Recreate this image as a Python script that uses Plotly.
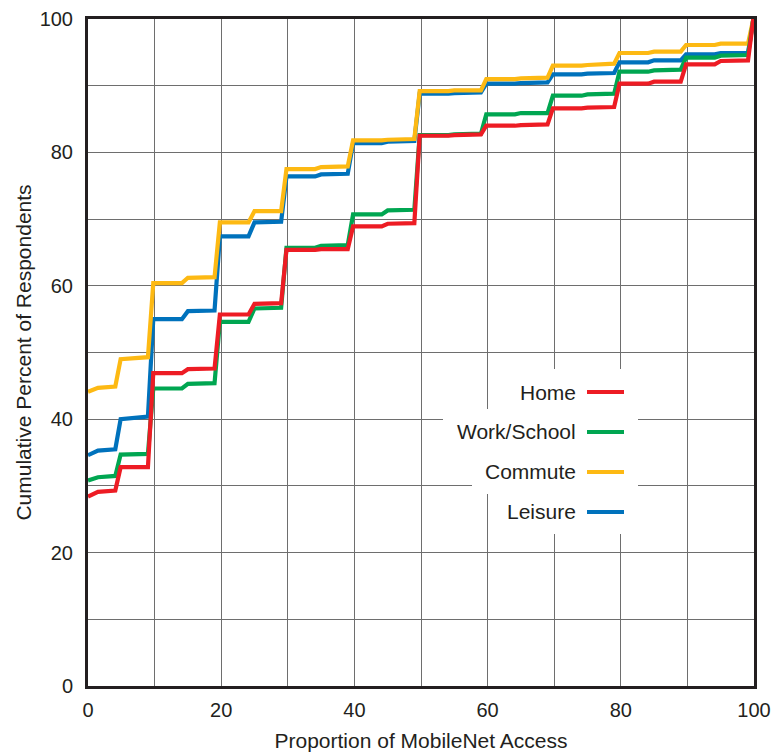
import plotly.graph_objects as go

# ---- data ----
proportion = [0, 1.5, 4.1, 4.9, 9.0, 9.8, 14.1, 15.0, 19.0, 19.8, 24.1, 25.0, 29.0, 29.8,
              34.1, 35.0, 39.0, 39.8, 44.1, 45.0, 49.0, 49.8, 54.1, 55.0, 59.0, 59.8,
              64.1, 65.0, 69.0, 69.8, 74.1, 75.0, 79.0, 79.8, 84.1, 85.0, 89.0, 89.8,
              94.1, 95.0, 99.1, 99.9]

commute = [44.1, 44.7, 44.9, 49.0, 49.3, 60.4, 60.4, 61.2, 61.3, 69.5, 69.5, 71.2, 71.2, 77.5,
           77.5, 77.8, 77.9, 81.8, 81.8, 81.9, 82.0, 89.2, 89.2, 89.3, 89.3, 91.0,
           91.0, 91.1, 91.2, 93.0, 93.0, 93.1, 93.3, 94.9, 94.9, 95.1, 95.1, 96.1,
           96.1, 96.3, 96.3, 100]

leisure = [34.6, 35.3, 35.5, 40.0, 40.4, 55.0, 55.0, 56.2, 56.3, 67.4, 67.4, 69.5, 69.6, 76.4,
           76.4, 76.7, 76.8, 81.4, 81.4, 81.6, 81.7, 88.8, 88.8, 88.9, 89.0, 90.3,
           90.3, 90.4, 90.5, 91.7, 91.7, 91.8, 91.9, 93.5, 93.5, 93.8, 93.8, 94.7,
           94.7, 94.9, 94.9, 100]

work_school = [30.8, 31.3, 31.5, 34.7, 34.8, 44.6, 44.6, 45.3, 45.4, 54.6, 54.6, 56.6, 56.7, 65.7,
               65.7, 66.0, 66.1, 70.7, 70.7, 71.3, 71.4, 82.6, 82.6, 82.7, 82.8, 85.7,
               85.7, 85.9, 85.9, 88.5, 88.5, 88.7, 88.8, 92.1, 92.1, 92.3, 92.4, 94.2,
               94.2, 94.5, 94.6, 100]

home = [28.4, 29.1, 29.3, 32.8, 32.8, 46.9, 46.9, 47.5, 47.6, 55.7, 55.7, 57.3, 57.4, 65.4,
        65.4, 65.5, 65.5, 68.9, 68.9, 69.3, 69.4, 82.5, 82.5, 82.6, 82.7, 84.0,
        84.0, 84.1, 84.2, 86.6, 86.6, 86.7, 86.8, 90.3, 90.3, 90.6, 90.6, 93.2,
        93.2, 93.7, 93.8, 100]

tick_vals = [0, 20, 40, 60, 80, 100]
tick_text = ["0", "20", "40", "60", "80", "100"]

series_names = ["Home", "Work/School", "Commute", "Leisure"]
series_values = {"Home": home, "Work/School": work_school, "Commute": commute, "Leisure": leisure}
colors = {"Home": "#ED1C24", "Work/School": "#00A651", "Commute": "#FDB913", "Leisure": "#0072BC"}

# ---- figure ----
W, H = 783, 753
L, R, T, B = 88, 29, 19, 67
PW, PH = W - L - R, H - T - B
FONT = "Liberation Sans, Arial, Helvetica, sans-serif"
TXT = "#231F20"

fig = go.Figure()
for name in ["Leisure", "Commute", "Work/School", "Home"]:
    fig.add_trace(go.Scatter(
        x=proportion, y=series_values[name], mode="lines", name=name,
        line=dict(color=colors[name], width=4.2), showlegend=False, cliponaxis=False))

def px_x(p):
    return (p - L) / PW

def px_y(p):
    return (H - B - p) / PH

# custom legend: text on the left, line sample on the right, white boxes behind
shapes = []
annotations = []
rows = [("Home", 392, 507), ("Work/School", 432, 443), ("Commute", 472, 472), ("Leisure", 512, 495)]
for name, cy, box_left in rows:
    shapes.append(dict(type="rect", xref="paper", yref="paper",
                       x0=px_x(box_left), x1=px_x(638), y0=px_y(cy - 23), y1=px_y(cy + 22),
                       fillcolor="white", line=dict(width=0), layer="above"))
for name, cy, box_left in rows:
    shapes.append(dict(type="line", xref="paper", yref="paper",
                       x0=px_x(587), x1=px_x(624), y0=px_y(cy), y1=px_y(cy),
                       line=dict(color=colors[name], width=4), layer="above"))
    annotations.append(dict(xref="paper", yref="paper", x=px_x(578), y=px_y(cy),
                            xanchor="right", yanchor="middle", showarrow=False,
                            text=name, font=dict(family=FONT, size=21, color=TXT)))

axis_common = dict(
    range=[0, 100], showline=True, linewidth=3, linecolor=TXT, mirror=True,
    showgrid=True, gridcolor="#6E6E6E", gridwidth=1.2,
    tickmode="array", tickvals=tick_vals, ticktext=tick_text, ticks="",
    tickfont=dict(family=FONT, size=20, color=TXT),
    minor=dict(dtick=10, tick0=0, showgrid=True, gridcolor="#6E6E6E", gridwidth=1.2),
    zeroline=False, fixedrange=True, automargin=False,
)

fig.update_layout(
    width=W, height=H,
    margin=dict(l=L, r=R, t=T, b=B, pad=0),
    paper_bgcolor="white", plot_bgcolor="white",
    xaxis=dict(axis_common, title=dict(text="Proportion of MobileNet Access",
                                       font=dict(family=FONT, size=21, color=TXT), standoff=14),
               ticklabelstandoff=4),
    yaxis=dict(axis_common, title=dict(text="Cumulative Percent of Respondents",
                                       font=dict(family=FONT, size=21, color=TXT), standoff=3),
               ticklabelstandoff=8),
    shapes=shapes, annotations=annotations, showlegend=False,
)

fig.write_html("out.html")
